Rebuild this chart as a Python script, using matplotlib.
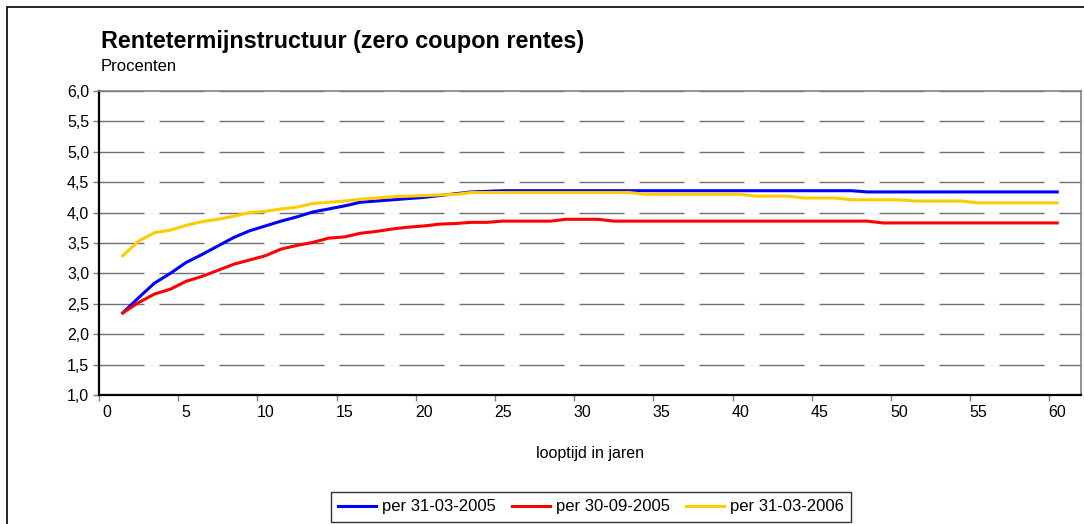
import numpy as np
import matplotlib
matplotlib.use("Agg")
import matplotlib.pyplot as plt
from matplotlib.patches import Rectangle
from matplotlib.ticker import FuncFormatter

# looptijd in jaren
jaren = list(range(1, 61))

# rentes per 31-03-2005
rente_2005_03 = [2.35, 2.60, 2.84, 3.00, 3.18, 3.31, 3.45, 3.59, 3.70, 3.78,
                 3.86, 3.93, 4.01, 4.06, 4.11, 4.17, 4.19, 4.21, 4.23, 4.25,
                 4.28, 4.31, 4.34, 4.35] + [4.36] * 23 + [4.34] * 13

# rentes per 30-09-2005
rente_2005_09 = [2.35, 2.52, 2.66, 2.74, 2.87, 2.95, 3.05, 3.15, 3.22, 3.29,
                 3.40, 3.46, 3.51, 3.58, 3.60, 3.66, 3.69, 3.73, 3.76, 3.78,
                 3.81, 3.82, 3.84, 3.84, 3.86, 3.86, 3.86, 3.86, 3.89, 3.89,
                 3.89] + [3.86] * 17 + [3.83] * 12

# rentes per 31-03-2006
rente_2006_03 = [3.29, 3.53, 3.67, 3.71, 3.79, 3.85, 3.89, 3.94, 4.00, 4.02,
                 4.06, 4.09, 4.15, 4.17, 4.19, 4.22, 4.24, 4.26, 4.27, 4.28,
                 4.29, 4.30] + [4.33] * 11 + [4.30] * 7 + [4.27] * 3 \
                + [4.24] * 3 + [4.21] * 4 + [4.19] * 4 + [4.16] * 6

labels = ['per 31-03-2005', 'per 30-09-2005', 'per 31-03-2006']
colors = ['#0000FF', '#FF0000', '#FFCC00']

plt.rcParams['font.family'] = ['Liberation Sans', 'DejaVu Sans']
plt.rcParams['lines.scale_dashes'] = False

W, H = 1084, 524
fig = plt.figure(figsize=(W / 100, H / 100), dpi=100)
ax = fig.add_axes([99 / W, 1 - 395 / H, (1081 - 99) / W, (395 - 91) / H])

for vals, lab, col in zip([rente_2005_03, rente_2005_09, rente_2006_03], labels, colors):
    ax.plot(jaren, vals, color=col, lw=2.2, label=lab, solid_joinstyle='round')

ax.set_xlim(-0.5, 61.5)
ax.set_ylim(1.0, 6.0)

# category-style x axis: tick marks between categories, labels on them
ax.set_xticks(np.arange(-0.5, 60, 5))
ax.set_xticklabels([])
ax.set_xticks(np.arange(0, 61, 5), minor=True)
ax.set_xticklabels([str(v) for v in range(0, 61, 5)], minor=True)
ax.tick_params(axis='x', which='major', direction='out', length=4, width=1, color='#808080')
ax.tick_params(axis='x', which='minor', length=0, pad=7, labelsize=11.5)

ax.set_yticks(np.arange(1.0, 6.01, 0.5))
ax.yaxis.set_major_formatter(FuncFormatter(lambda v, p: f'{v:.1f}'.replace('.', ',')))
ax.tick_params(axis='y', direction='out', length=4, width=1, color='#808080', labelsize=11.5, pad=3)

ax.yaxis.grid(True, color='#707070', lw=1.0, linestyle=(0, (32.4, 10.8)))
ax.set_axisbelow(True)

for s in ['left', 'bottom']:
    ax.spines[s].set_color('black')
    ax.spines[s].set_linewidth(1.6)
for s in ['top', 'right']:
    ax.spines[s].set_color('#808080')
    ax.spines[s].set_linewidth(1.2)

ax.set_xlabel('looptijd in jaren', fontsize=11.5, labelpad=19)

fig.text(101 / W, 1 - 48 / H, 'Rentetermijnstructuur (zero coupon rentes)',
         fontsize=16.8, fontweight='bold', ha='left', va='baseline')
fig.text(101 / W, 1 - 71 / H, 'Procenten', fontsize=12, ha='left', va='baseline')

leg = fig.legend(loc='center', bbox_to_anchor=(591 / W, 1 - 507 / H), ncol=3,
                 frameon=True, fancybox=False, edgecolor='black', fontsize=12,
                 handlelength=2.3, handletextpad=0.35, columnspacing=0.95,
                 borderpad=0.45)
leg.get_frame().set_linewidth(1.0)

# outer chart frame (cut off at right and bottom)
fig.patches.append(Rectangle((7 / W, -0.1), 1.2, (H - 7) / H + 0.1, fill=False,
                             edgecolor='black', lw=1.2, transform=fig.transFigure))

fig.savefig('out.png', dpi=100)
